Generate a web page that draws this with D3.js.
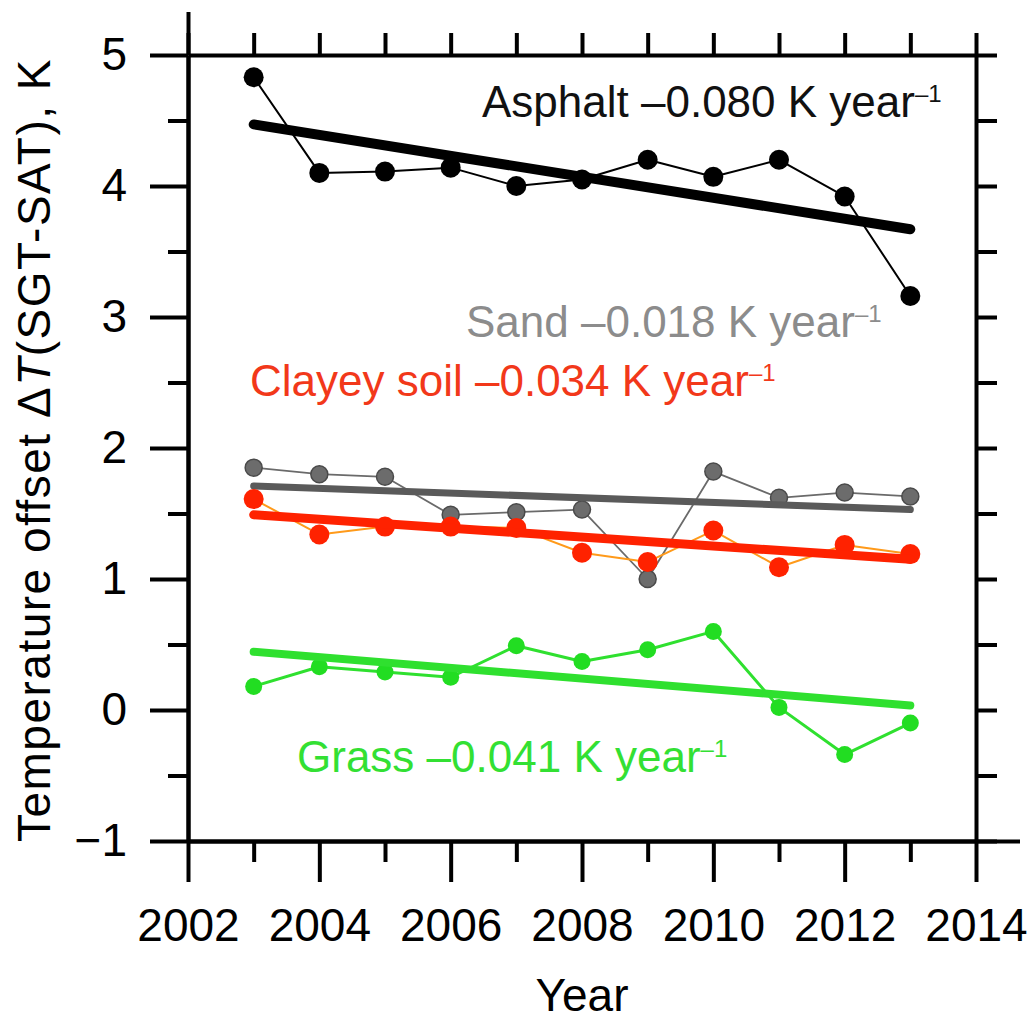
<!DOCTYPE html>
<html>
<head>
<meta charset="utf-8">
<script src="https://cdn.jsdelivr.net/npm/d3@7"></script>
<style>
  body { margin: 0; background: #fff; }
  svg { display: block; }
  text { font-family: "Liberation Sans", Arial, Helvetica, sans-serif; }
</style>
</head>
<body>
<svg id="chart" width="1036" height="1021"></svg>
<script>
// Annual mean offsets between surface ground temperature and surface air temperature
const years = [2003, 2004, 2005, 2006, 2007, 2008, 2009, 2010, 2011, 2012, 2013];
const asphalt    = [4.83, 4.10, 4.11, 4.14, 4.00, 4.05, 4.20, 4.07, 4.20, 3.92, 3.16];
const sand       = [1.85, 1.80, 1.78, 1.49, 1.51, 1.53, 1.00, 1.82, 1.62, 1.66, 1.63];
const clayeySoil = [1.61, 1.34, 1.40, 1.40, 1.39, 1.20, 1.13, 1.37, 1.09, 1.26, 1.19];
const grass      = [0.18, 0.33, 0.29, 0.25, 0.49, 0.37, 0.46, 0.60, 0.02, -0.34, -0.10];

// Linear trend end points (first and last year)
const trendYears      = [2003, 2013];
const asphaltTrend    = [4.47, 3.67];
const sandTrend       = [1.71, 1.53];
const clayeySoilTrend = [1.49, 1.15];
const grassTrend      = [0.445, 0.035];

// Trend labels
const labelNames  = ["Asphalt", "Sand", "Clayey soil", "Grass"];
const labelSlopes = ["\u20130.080", "\u20130.018", "\u20130.034", "\u20130.041"];

// Axis ticks
const xMajorTicks = [2002, 2004, 2006, 2008, 2010, 2012, 2014];
const xMinorTicks = [2003, 2005, 2007, 2009, 2011, 2013];
const xAllTicks   = [2002, 2003, 2004, 2005, 2006, 2007, 2008, 2009, 2010, 2011, 2012, 2013, 2014];
const yMajorTicks = [-1, 0, 1, 2, 3, 4, 5];
const yMinorTicks = [-0.5, 0.5, 1.5, 2.5, 3.5, 4.5];
const yAllTicks   = [-1, -0.5, 0, 0.5, 1, 1.5, 2, 2.5, 3, 3.5, 4, 4.5, 5];

const svg = d3.select("#chart");

const x = d3.scaleLinear().domain([2002, 2014]).range([188, 976]);
const y = d3.scaleLinear().domain([-1, 5]).range([841, 55]);

const AX_W = 4, MAJ = 41, MIN = 21;

// ---- frame: labelled left/bottom axes, short mirror ticks on top/right ----
function styleAxis(g) {
  g.selectAll("path, line").attr("stroke", "#000").attr("stroke-width", AX_W);
  g.selectAll("text").attr("fill", "#000").attr("font-size", 46);
}
const fmt = d3.format("d");
const yFmt = v => (v < 0 ? "\u2212" + Math.abs(v) : String(v));

// bottom
svg.append("g").attr("transform", `translate(0,${y(-1)})`)
  .call(d3.axisBottom(x).tickValues(xMajorTicks).tickSize(MAJ).tickSizeOuter(0).tickPadding(26).tickFormat(fmt))
  .call(styleAxis);
svg.append("g").attr("transform", `translate(0,${y(-1)})`)
  .call(d3.axisBottom(x).tickValues(xMinorTicks).tickSize(MIN).tickSizeOuter(0).tickFormat(""))
  .call(styleAxis);
// top
svg.append("g").attr("transform", `translate(0,${y(5)})`)
  .call(d3.axisTop(x).tickValues(xAllTicks).tickSize(MIN + 1).tickSizeOuter(0).tickFormat(""))
  .call(styleAxis);
// left
svg.append("g").attr("transform", `translate(${x(2002)},0)`)
  .call(d3.axisLeft(y).tickValues(yMajorTicks).tickSize(38).tickSizeOuter(0).tickPadding(23).tickFormat(yFmt))
  .call(styleAxis);
svg.append("g").attr("transform", `translate(${x(2002)},0)`)
  .call(d3.axisLeft(y).tickValues(yMinorTicks).tickSize(20).tickSizeOuter(0).tickFormat(""))
  .call(styleAxis);
// right
svg.append("g").attr("transform", `translate(${x(2014)},0)`)
  .call(d3.axisRight(y).tickValues(yAllTicks).tickSize(MIN).tickSizeOuter(0).tickFormat(""))
  .call(styleAxis);

// overhanging axis lines (left axis above the frame, bottom axis past the right edge)
const overhang = svg.append("g").attr("stroke", "#000").attr("stroke-width", AX_W);
overhang.append("line")
  .attr("x1", x(2002) + 0.5).attr("x2", x(2002) + 0.5)
  .attr("y1", y(5)).attr("y2", y(5) - 43);
overhang.append("line")
  .attr("x1", x(2014)).attr("x2", x(2014) + 44)
  .attr("y1", y(-1) + 0.5).attr("y2", y(-1) + 0.5);

// ---- axis titles ----
svg.append("text")
  .attr("x", (x(2002) + x(2014)) / 2).attr("y", 1011)
  .attr("text-anchor", "middle").attr("font-size", 46).attr("fill", "#000")
  .text("Year");

const yt = svg.append("text")
  .attr("transform", `translate(50,${(y(5) + y(-1)) / 2 + 2}) rotate(-90)`)
  .attr("text-anchor", "middle").attr("font-size", 46).attr("letter-spacing", 1.5)
  .attr("fill", "#000");
yt.append("tspan").text("Temperature offset \u0394");
yt.append("tspan").attr("font-style", "italic").text("T");
yt.append("tspan").text("(SGT-SAT), K");

// ---- series ----
const line = d3.line().x(d => x(d[0])).y(d => y(d[1]));

function drawSeries(vals, trend, st) {
  const g = svg.append("g");
  const pts = years.map((yr, i) => [yr, vals[i]]);
  g.append("path").datum(pts).attr("d", line)
    .attr("fill", "none").attr("stroke", st.thin).attr("stroke-width", st.thinW)
    .attr("stroke-linejoin", "round");
  g.selectAll("circle").data(pts).join("circle")
    .attr("cx", d => x(d[0])).attr("cy", d => y(d[1])).attr("r", st.r)
    .attr("fill", st.fill).attr("stroke", st.stroke).attr("stroke-width", st.strokeW);
  g.append("path").datum(trendYears.map((yr, i) => [yr, trend[i]])).attr("d", line)
    .attr("fill", "none").attr("stroke", st.trend).attr("stroke-width", st.trendW)
    .attr("stroke-linecap", "round");
}

drawSeries(asphalt, asphaltTrend,
  { thin: "#000", thinW: 2, r: 10, fill: "#000", stroke: "#000", strokeW: 0, trend: "#000", trendW: 10 });
drawSeries(sand, sandTrend,
  { thin: "#6a6a6a", thinW: 1.8, r: 8.5, fill: "#6c6c6c", stroke: "#4a4a4a", strokeW: 1.5, trend: "#5a5a5a", trendW: 7 });
drawSeries(clayeySoil, clayeySoilTrend,
  { thin: "#ff9a1a", thinW: 2, r: 10, fill: "#ff2200", stroke: "#ff2200", strokeW: 0, trend: "#ff2200", trendW: 9 });
drawSeries(grass, grassTrend,
  { thin: "#2fe02f", thinW: 3, r: 8.5, fill: "#22dd22", stroke: "#22dd22", strokeW: 0, trend: "#2fe02f", trendW: 8 });

// ---- trend labels ----
const labelPos = [
  { x: 482, y: 117, color: "#111" },
  { x: 466, y: 337, color: "#8c8c8c" },
  { x: 250, y: 396, color: "#f2381a" },
  { x: 297, y: 772, color: "#33e033" }
];
labelNames.forEach((name, i) => {
  const p = labelPos[i];
  const t = svg.append("text").attr("x", p.x).attr("y", p.y)
    .attr("font-size", 44).attr("fill", p.color);
  t.append("tspan").text(`${name} ${labelSlopes[i]} K year`);
  t.append("tspan").attr("font-size", 24).attr("dy", -15).text("\u20131");
});
</script>
</body>
</html>
